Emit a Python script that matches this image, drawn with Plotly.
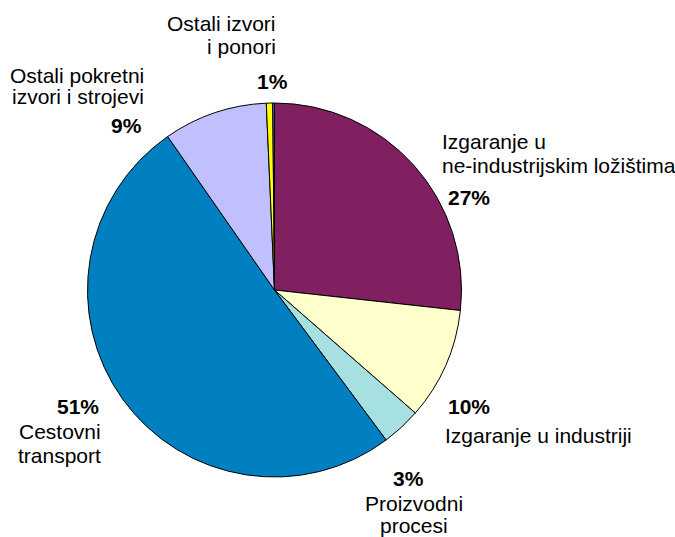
import plotly.graph_objects as go

# ---- data ----
categories = ["Izgaranje u ne-industrijskim ložištima", "Izgaranje u industriji",
              "Proizvodni procesi", "Cestovni transport",
              "Ostali pokretni izvori i strojevi", "Ostali izvori i ponori", "Ostalo"]
values = [26.8, 9.7, 3.4, 50.6, 9.0, 0.55, 0.15]
colors = ["#802060", "#FFFFCC", "#A6E0E0", "#0080C0", "#C0C0FF", "#FFFF00", "#6A6AD8"]
pct_labels = ["27%", "10%", "3%", "51%", "9%", "1%"]
name_lines = [["Izgaranje u", "ne-industrijskim ložištima"],
              ["Izgaranje u industriji"],
              ["Proizvodni", "procesi"],
              ["Cestovni", "transport"],
              ["Ostali pokretni", "izvori i strojevi"],
              ["Ostali izvori", "i ponori"]]

W, H = 675, 537
FONT = "Liberation Sans, Arial, sans-serif"
FS = 21

cx, cy, r = 274.5, 290.0, 187.0

fig = go.Figure(go.Pie(
    labels=categories, values=values, sort=False, direction="clockwise", rotation=0,
    marker=dict(colors=colors, line=dict(color="black", width=1)),
    textinfo="none", hoverinfo="label+percent", showlegend=False,
    domain=dict(x=[(cx - r) / W, (cx + r) / W], y=[(H - cy - r) / H, (H - cy + r) / H]),
))

def ann(text, x, baseline, anchor, bold=False):
    fig.add_annotation(
        text=f"<b>{text}</b>" if bold else text, xref="paper", yref="paper",
        x=x / W, y=1 - (baseline - 7) / H, xanchor=anchor, yanchor="middle",
        showarrow=False, font=dict(family=FONT, size=FS, color="black"))

# label placement (pixel positions: x, baselines, anchor)
placements = [
    (440, [148, 172], "left", (446, 205, "left")),
    (443, [442], "left", (446, 413, "left")),
    (414, [510, 532], "center", (408, 485, "center")),
    (103, [438, 462], "right", (101, 413, "right")),
    (146, [82, 104], "right", (144, 133, "right")),
    (278, [30, 53], "right", (272, 89, "center")),
]
for lines, pct, (x, bls, anc, (px, pb, pa)) in zip(name_lines, pct_labels, placements):
    for line, b in zip(lines, bls):
        ann(line, x, b, anc)
    ann(pct, px, pb, pa, bold=True)

fig.update_layout(width=W, height=H, margin=dict(l=0, r=0, t=0, b=0),
                  paper_bgcolor="white", plot_bgcolor="white")
fig.write_html("out.html", config={"displayModeBar": False},
               post_script="document.body.style.margin='0';")
